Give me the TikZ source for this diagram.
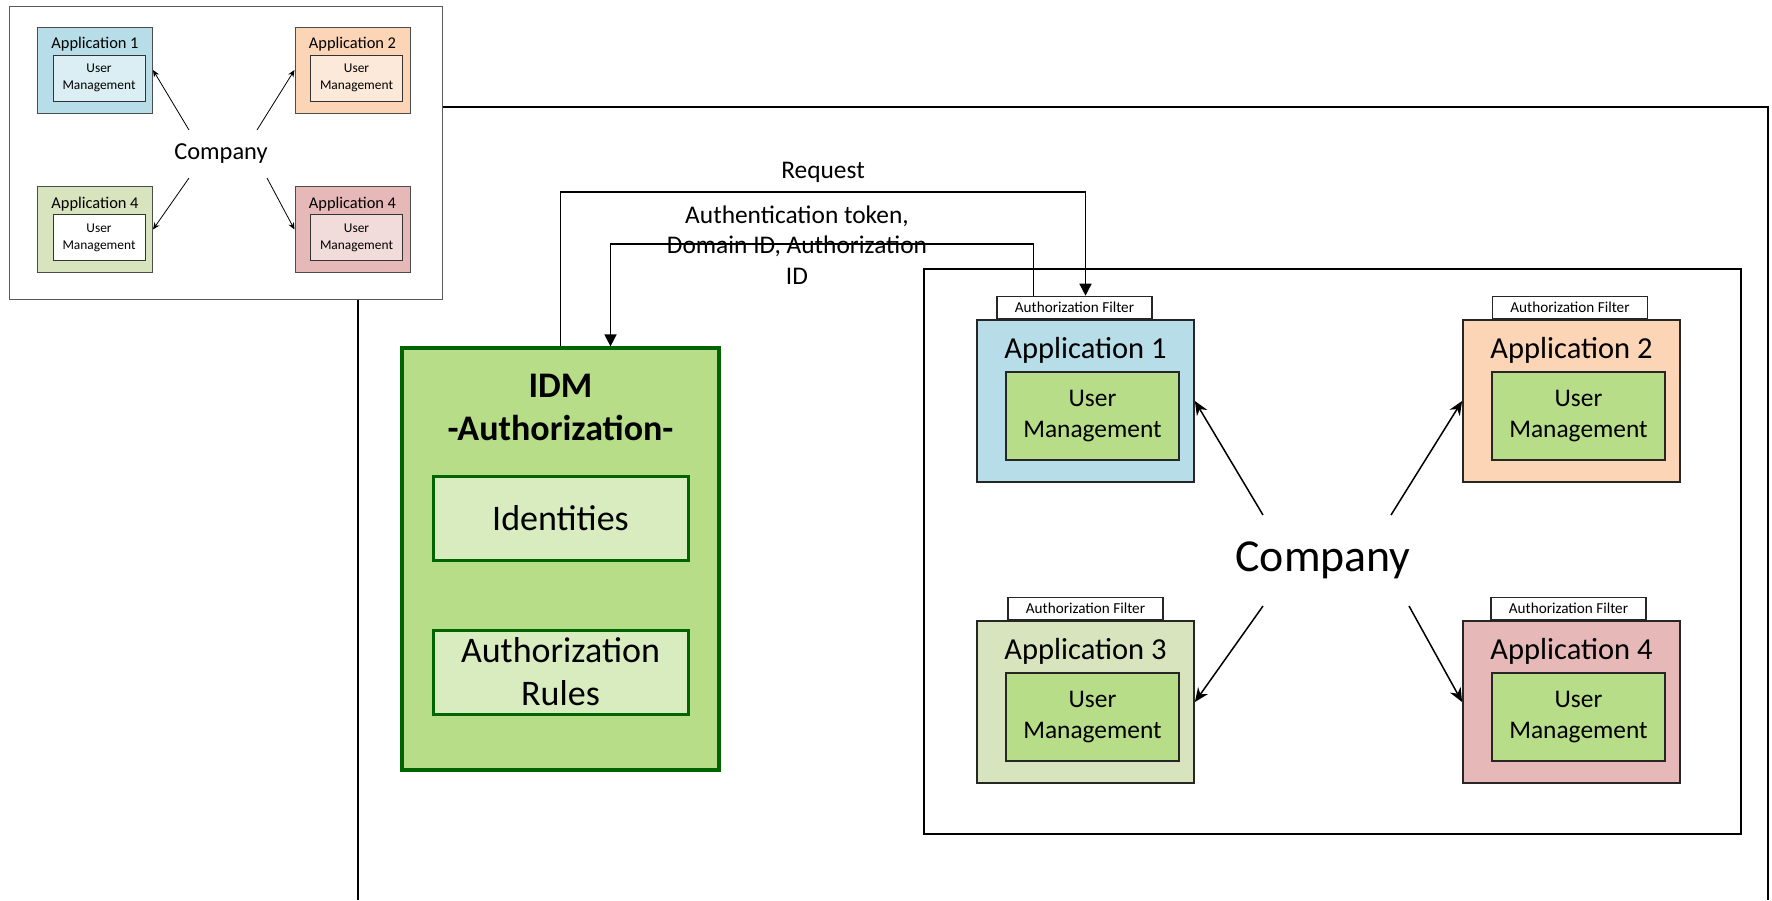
\documentclass[tikz,border=0pt]{standalone}
\usepackage{fontspec}
\setmainfont{Carlito}
\usetikzlibrary{
  arrows.meta,
  calc,
  positioning
}

\definecolor{appblue}{RGB}{183,222,232}
\definecolor{appbluelight}{RGB}{218,238,243}
\definecolor{apporange}{RGB}{251,213,181}
\definecolor{apporangelight}{RGB}{253,233,217}
\definecolor{appgreen}{RGB}{215,228,189}
\definecolor{appred}{RGB}{230,185,184}
\definecolor{appredlight}{RGB}{242,220,219}
\definecolor{idmgreen}{RGB}{183,221,136}
\definecolor{idmlight}{RGB}{216,236,192}
\definecolor{idmborder}{RGB}{0,100,0}

\begin{document}
\begin{tikzpicture}[x=0.5pt,y=-0.5pt,
  app box/.style={draw=black!85,line width=0.9pt,inner sep=0pt,
    minimum width=108.5pt,minimum height=81pt},
  app title/.style={inner sep=0pt,font=\fontsize{15.25}{18}\selectfont},
  um box/.style={draw=black!85,line width=0.9pt,fill=idmgreen,inner sep=0pt,
    minimum width=86.5pt,minimum height=44pt,align=center,
    font=\fontsize{12.7}{15.5}\selectfont},
  filter box/.style={draw=black!85,line width=0.7pt,fill=white,inner sep=0pt,
    minimum width=77.5pt,minimum height=11pt,font=\fontsize{7.6}{9}\selectfont},
  small box/.style={draw=black!70,line width=0.5pt,inner sep=0pt,
    minimum width=57.5pt,minimum height=43pt},
  small title/.style={inner sep=0pt,font=\fontsize{8.2}{10}\selectfont},
  small um/.style={draw=black!80,line width=0.5pt,inner sep=0pt,
    minimum width=46pt,minimum height=23pt,align=center,
    font=\fontsize{6.7}{8.5}\selectfont},
  idm inner/.style={draw=idmborder,line width=1.5pt,fill=idmlight,inner sep=0pt,
    minimum width=127.5pt,minimum height=42pt,align=center,
    font=\fontsize{18}{21.5}\selectfont},
  flow/.style={-{Triangle[length=6pt,width=6pt]},line width=0.75pt},
  spoke/.style={-{Stealth[length=7pt,width=6pt]},line width=0.75pt},
  small spoke/.style={-{Stealth[length=3.5pt,width=3pt]},line width=0.4pt},
  frame/.style={line width=0.9pt}]
  \useasboundingbox (0,0) rectangle (1772,900);

  % overview of the company without IDM
  \node[draw=black!65,line width=0.5pt,inner sep=0pt,minimum width=216.5pt,
  minimum height=146.5pt] at (225.5, 152.5) (Overview) {};

  \node[small box,fill=appblue] at (95, 70) (Small App1) {};
  \node[small title] at (95, 44) (Small App1 Title) {Application 1};
  \node[small um,fill=appbluelight] at (99, 78) (Small App1 UM) {User\\Management};
  \node[small box,fill=apporange] at (352.5, 70) (Small App2) {};
  \node[small title] at (352.5, 44) (Small App2 Title) {Application 2};
  \node[small um,fill=apporangelight] at (356.5, 78) (Small App2 UM) {User\\Management};
  \node[small box,fill=appgreen] at (95, 229.5) (Small App3) {};
  \node[small title] at (95, 204) (Small App3 Title) {Application 4};
  \node[small um,fill=white] at (99, 237.5) (Small App3 UM) {User\\Management};
  \node[small box,fill=appred] at (352.5, 229.5) (Small App4) {};
  \node[small title] at (352.5, 204) (Small App4 Title) {Application 4};
  \node[small um,fill=appredlight] at (356.5, 237.5) (Small App4 UM) {User\\Management};

  \node[inner sep=0pt,font=\fontsize{12.2}{14}\selectfont] at (221, 154) (Small Company) {Company};
  \draw[small spoke] ($(Small Company)+(-32,-24)$) -- (Small App1.east);
  \draw[small spoke] ($(Small Company)+(36,-24)$) -- (Small App2.west);
  \draw[small spoke] ($(Small Company)+(-32,24)$) -- (Small App3.east);
  \draw[small spoke] ($(Small Company)+(46,24)$) -- (Small App4.west);

  % outer frame
  \coordinate (Frame Top) at (1768, 107);
  \coordinate (Frame Bottom Right) at (1768, 900);
  \coordinate (Frame Bottom Left) at (358, 900);
  \draw[frame] (Overview.east |- Frame Top) -- (Frame Top) -- (Frame Bottom Right);
  \draw[frame] (Frame Bottom Left |- Overview.south) -- (Frame Bottom Left);

  % IDM
  \node[draw=idmborder,line width=1.6pt,fill=idmgreen,inner sep=0pt,
  minimum width=158.5pt,minimum height=211pt] at (560.5, 559) (IDM) {};
  \node[inner sep=0pt,align=center,font=\bfseries\fontsize{18}{21.5}\selectfont]
  at (560.5, 407) (IDM Title) {IDM\\-Authorization-};
  \node[idm inner] at (560.5, 518) (Identities) {Identities};
  \node[idm inner] at (560.5, 672) (Rules) {Authorization\\Rules};

  % company with IDM
  \draw[frame] (924, 269) rectangle (1741, 834);

  \node[app box,fill=appblue] at (1085.5, 401) (App1) {};
  \node[app title] at (1085.5, 350) (App1 Title) {Application 1};
  \node[um box] at (1092.5, 416) (App1 UM) {User\\Management};
  \node[filter box,anchor=south] at ($(App1.north)+(-11,0)$) (App1 Filter) {Authorization Filter};

  \node[app box,fill=apporange] at (1571.5, 401) (App2) {};
  \node[app title] at (1571.5, 350) (App2 Title) {Application 2};
  \node[um box] at (1578.5, 416) (App2 UM) {User\\Management};
  \node[filter box,anchor=south] at ($(App2.north)+(-1.5,0)$) (App2 Filter) {Authorization Filter};

  \node[app box,fill=appgreen] at (1085.5, 702) (App3) {};
  \node[app title] at (1085.5, 651) (App3 Title) {Application 3};
  \node[um box] at (1092.5, 717) (App3 UM) {User\\Management};
  \node[filter box,anchor=south] at (App3.north) (App3 Filter) {Authorization Filter};

  \node[app box,fill=appred] at (1571.5, 702) (App4) {};
  \node[app title] at (1571.5, 651) (App4 Title) {Application 4};
  \node[um box] at (1578.5, 717) (App4 UM) {User\\Management};
  \node[filter box,anchor=south] at ($(App4.north)+(-3,0)$) (App4 Filter) {Authorization Filter};

  \node[inner sep=0pt,font=\fontsize{22.9}{26}\selectfont] at (1323, 560) (Company) {Company};
  \draw[spoke] ($(Company)+(-60,-45)$) -- (App1.east);
  \draw[spoke] ($(Company)+(68,-45)$) -- (App2.west);
  \draw[spoke] ($(Company)+(-60,46)$) -- (App3.east);
  \draw[spoke] ($(Company)+(86,46)$) -- (App4.west);

  % request and answer
  \coordinate (Request Level) at (0, 192);
  \coordinate (Token Level) at (0, 244);
  \node[inner sep=0pt,font=\fontsize{12.7}{15.3}\selectfont] at (823, 172) (Request) {Request};
  \node[inner sep=0pt,align=center,font=\fontsize{12.7}{15.3}\selectfont]
  at (797, 245) (Token) {Authentication token,\\Domain ID, Authorization\\ID};
  \draw[flow] (IDM.north) -- (IDM.north |- Request Level) -| (App1 Filter.north -| App1.north);
  \draw[flow] ($(App1 Filter.north west)+(37,0)$) |- ($(IDM.north |- Token Level)+(50,0)$)
  -- ($(IDM.north)+(50,0)$);
\end{tikzpicture}
\end{document}
